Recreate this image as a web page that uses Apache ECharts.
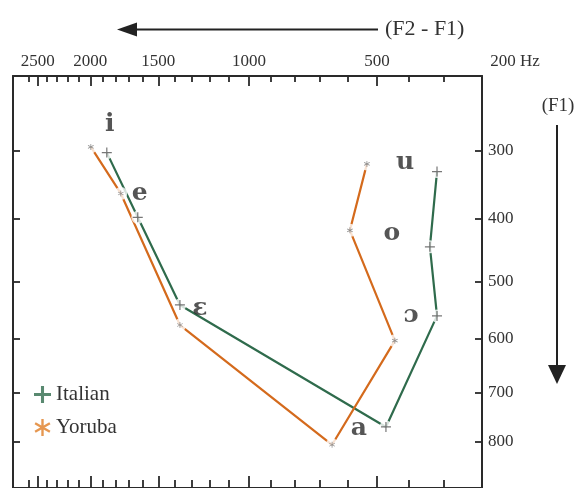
<!DOCTYPE html>
<html><head><meta charset="utf-8">
<script src="https://cdn.jsdelivr.net/npm/echarts@6/dist/echarts.min.js"></script>
<style>html,body{margin:0;padding:0;background:#fff}#c{width:578px;height:488px}</style>
</head><body><div id="c"></div>
<script>
// ---- data (Hz) ----
const vowels = ['i', 'e', 'ɛ', 'a', 'ɔ', 'o', 'u'];
const italianF2F1 = [1866, 1637, 1366, 471, 319, 339, 319];
const italianF1   = [303, 398, 540, 769, 559, 444, 330];
const yorubaF2F1  = [1996, 1759, 1366, 655, 443, 591, 533];
const yorubaF1    = [295, 362, 575, 806, 603, 418, 319];
const xTickLabels = [200, 500, 1000, 1500, 2000, 2500];
const xMajorTicks = [2500, 2000, 1500, 1000, 500];
const xMinorTicks = [2600, 2400, 2300, 2200, 2100, 1900, 1800, 1700, 1600, 1400, 1300, 1200, 1100,
                     900, 800, 700, 600, 400, 300];
const yTicks = [300, 400, 500, 600, 700, 800];
const xRangeHz = [200, 2780];
const yRangeHz = [200, 900];

// ---- styles ----
const vowelLabelOffsets = [[3, -28], [2, -24], [20, 4], [-27, 2], [-26, 0], [-38, -13], [-32, -9]];
const green = '#2f6b4c', orange = '#d46a1c';
const axisColor = '#2a2a2a';
const serif = 'Liberation Serif';

// Bark scale (Traunmüller)
const B = f => 26.81 * f / (1960 + f) - 0.53;
const xMin = B(xRangeHz[0]), xMax = B(xRangeHz[1]);
const yMin = B(yRangeHz[0]), yMax = B(yRangeHz[1]);

const plusPath = 'path://M0,4.4H10V5.6H0Z M4.4,0H5.6V10H4.4Z';
const plusThick = 'path://M0,4.1H10V5.9H0Z M4.1,0H5.9V10H4.1Z';
const astPath = 'path://M4.4,0H5.6V10H4.4Z M0.37,3.02L0.97,1.98L9.63,6.98L9.03,8.02Z M0.97,8.02L0.37,6.98L9.03,1.98L9.63,3.02Z';
const astThick = 'path://M4.3,0H5.7V10H4.3Z M0.3,3.1L1.0,1.9L9.7,6.9L9.0,8.1Z M1.0,8.1L0.3,6.9L9.0,1.9L9.7,3.1Z';

const itPts = italianF2F1.map((v, i) => [B(v), B(italianF1[i])]);
const yoPts = yorubaF2F1.map((v, i) => [B(v), B(yorubaF1[i])]);

function xAxisBase(pos) {
  return {type: 'value', position: pos, min: xMin, max: xMax, inverse: true,
    splitLine: {show: false},
    axisLine: {show: true, onZero: false, lineStyle: {color: axisColor, width: 2}}};
}
function yAxisBase(pos) {
  return {type: 'value', position: pos, min: yMin, max: yMax, inverse: true,
    splitLine: {show: false},
    axisLine: {show: true, onZero: false, lineStyle: {color: axisColor, width: 2}}};
}
const tickLine = {color: axisColor, width: 1.8};

const xLabelFmt = v => {
  const hz = xTickLabels.find(t => Math.abs(B(t) - v) < 1e-6);
  if (hz === undefined) return '';
  return hz === 200 ? '{hz|200 Hz}' : String(hz);
};

const option = {
  animation: false,
  backgroundColor: '#fff',
  grid: {left: 13, right: 96, top: 76, bottom: -4},
  xAxis: [
    Object.assign(xAxisBase('top'), {
      axisTick: {show: true, inside: true, length: 10, customValues: xMajorTicks.map(B), lineStyle: tickLine},
      axisLabel: {show: true, customValues: xTickLabels.map(B), formatter: xLabelFmt, margin: 6,
        fontFamily: serif, fontSize: 17, color: '#333',
        rich: {hz: {fontFamily: serif, fontSize: 17, color: '#333', padding: [0, 0, 0, 66]}}}
    }),
    Object.assign(xAxisBase('top'), {
      axisLine: {show: false},
      axisTick: {show: true, inside: true, length: 6, customValues: xMinorTicks.map(B), lineStyle: tickLine},
      axisLabel: {show: false}
    }),
    Object.assign(xAxisBase('bottom'), {
      axisTick: {show: true, inside: true, length: 12, customValues: xMajorTicks.map(B), lineStyle: tickLine},
      axisLabel: {show: false}
    }),
    Object.assign(xAxisBase('bottom'), {
      axisLine: {show: false},
      axisTick: {show: true, inside: true, length: 8, customValues: xMinorTicks.map(B), lineStyle: tickLine},
      axisLabel: {show: false}
    })
  ],
  yAxis: [
    Object.assign(yAxisBase('right'), {
      axisTick: {show: true, inside: true, length: 7, customValues: yTicks.map(B), lineStyle: tickLine},
      axisLabel: {show: true, customValues: yTicks.map(B), margin: 6,
        formatter: v => { const hz = yTicks.find(t => Math.abs(B(t) - v) < 1e-6); return hz === undefined ? '' : String(hz); },
        fontFamily: serif, fontSize: 17, color: '#333'}
    }),
    Object.assign(yAxisBase('left'), {
      axisTick: {show: true, inside: true, length: 7, customValues: yTicks.map(B), lineStyle: tickLine},
      axisLabel: {show: false}
    })
  ],
  legend: {
    orient: 'vertical', left: 29, top: 379, itemGap: 12, itemWidth: 17, itemHeight: 17,
    selectedMode: false,
    textStyle: {fontFamily: serif, fontSize: 21, color: '#333'},
    data: [
      {name: 'Italian', icon: plusThick, itemStyle: {color: green}},
      {name: 'Yoruba', icon: astThick, itemStyle: {color: '#e07d24'}}
    ]
  },
  series: [
    {type: 'line', name: 'ItalianLine', data: itPts, showSymbol: false, silent: true, z: 2,
      lineStyle: {color: green, width: 2.2}},
    {type: 'line', name: 'YorubaLine', data: yoPts, showSymbol: false, silent: true, z: 2,
      lineStyle: {color: orange, width: 2.2}},
    {type: 'scatter', name: 'halo', data: itPts.concat(yoPts), symbol: 'circle', symbolSize: 13,
      silent: true, z: 3, itemStyle: {color: '#fff'}},
    {type: 'scatter', name: 'Italian', data: itPts, symbol: plusPath, symbolSize: 10, silent: true, z: 4,
      itemStyle: {color: '#555'}},
    {type: 'scatter', name: 'Yoruba', data: yoPts, symbol: astPath, symbolSize: 6, silent: true, z: 4,
      itemStyle: {color: '#777'}},
    {type: 'scatter', name: 'vowels', silent: true, z: 5, symbolSize: 0,
      data: itPts.map((p, i) => ({value: p, label: {offset: vowelLabelOffsets[i]}})),
      label: {show: true, position: 'inside', formatter: p => vowels[p.dataIndex],
        fontFamily: 'DejaVu Serif', fontSize: 25, fontWeight: 'bold', color: '#2a2a2a'}}
  ],
  graphic: [
    {type: 'line', shape: {x1: 134, y1: 29.5, x2: 378, y2: 29.5}, style: {stroke: '#222', lineWidth: 2}},
    {type: 'polygon', shape: {points: [[117, 29.5], [137, 22.5], [137, 36.5]]}, style: {fill: '#222'}},
    {type: 'text', x: 385, y: 29.5, style: {text: '(F2 - F1)', fontFamily: serif, fontSize: 22,
      fill: '#333', textVerticalAlign: 'middle', verticalAlign: 'middle'}},
    {type: 'line', shape: {x1: 557, y1: 125, x2: 557, y2: 368}, style: {stroke: '#222', lineWidth: 2}},
    {type: 'polygon', shape: {points: [[557, 384], [548, 365], [566, 365]]}, style: {fill: '#222'}},
    {type: 'text', x: 558, y: 106, style: {text: '(F1)', fontFamily: serif, fontSize: 19, fill: '#333',
      align: 'center', verticalAlign: 'middle', textAlign: 'center', textVerticalAlign: 'middle'}}
  ]
};
const chart = echarts.init(document.getElementById('c'), null, {renderer: 'canvas'});
chart.setOption(option);
</script></body></html>
